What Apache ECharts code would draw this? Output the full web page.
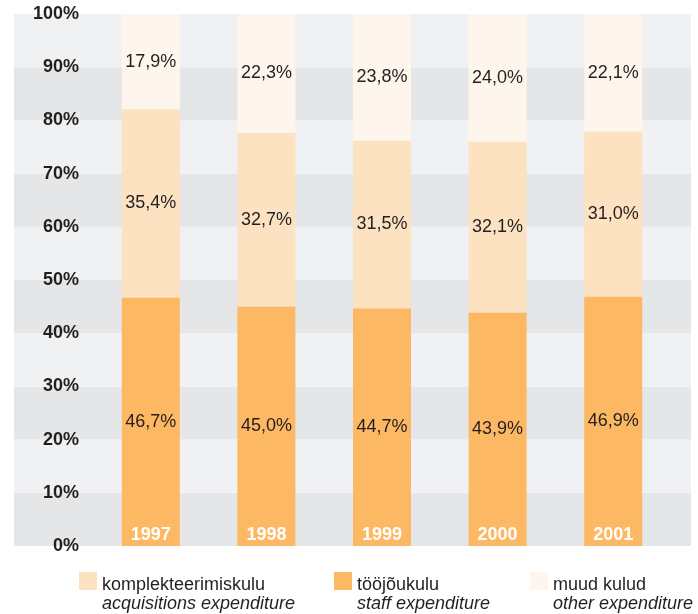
<!DOCTYPE html>
<html>
<head>
<meta charset="utf-8">
<script src="https://cdn.jsdelivr.net/npm/echarts@6/dist/echarts.min.js"></script>
<style>
  html, body { margin: 0; padding: 0; background: #fff; }
  #chart { width: 698px; height: 614px; }
</style>
</head>
<body>
<div id="chart"></div>
<script>
const years = ['1997', '1998', '1999', '2000', '2001']
const staff = [46.7, 45.0, 44.7, 43.9, 46.9]
const acquisitions = [35.4, 32.7, 31.5, 32.1, 31.0]
const other = [17.9, 22.3, 23.8, 24.0, 22.1]

const names = [
  { key: 'acq', et: 'komplekteerimiskulu', en: 'acquisitions expenditure' },
  { key: 'staff', et: 'tööjõukulu', en: 'staff expenditure' },
  { key: 'other', et: 'muud kulud', en: 'other expenditure' }
]

const textColor = '#231f20'
const fontFamily = '"Liberation Sans", Arial, sans-serif'

const fmt = v => v.toFixed(1).replace('.', ',') + '%'

const valueLabel = {
  show: true,
  position: 'inside',
  color: textColor,
  fontSize: 18,
  fontFamily,
  padding: [3, 0, 0, 0],
  formatter: p => fmt(p.value)
}

const legendFor = (key, left) => ({
  data: [{ name: key, icon: 'rect' }],
  left,
  top: 567,
  orient: 'horizontal',
  itemWidth: 18,
  itemHeight: 18,
  itemGap: 10,
  selectedMode: false,
  formatter: name => {
    const n = names.find(x => x.key === name)
    return '{a|' + n.et + '}\n{b|' + n.en + '}'
  },
  textStyle: {
    padding: [27, 0, 0, 0],
    rich: {
      a: { fontSize: 18, lineHeight: 19, color: textColor, fontFamily },
      b: { fontSize: 18, lineHeight: 19, color: textColor, fontFamily, fontStyle: 'italic' }
    }
  }
})

const chart = echarts.init(document.getElementById('chart'))
chart.setOption({
  animation: false,
  backgroundColor: '#fff',
  legend: [
    legendFor('acq', 74),
    legendFor('staff', 329),
    legendFor('other', 525)
  ],
  grid: [
    { left: 14, right: 7, top: 14, bottom: 68 },
    { left: 93, right: 27, top: 14, bottom: 68 }
  ],
  xAxis: [
    { gridIndex: 0, type: 'category', data: years, show: false },
    {
      gridIndex: 1,
      type: 'category',
      data: years,
      z: 10,
      axisLine: { show: false },
      axisTick: { show: false },
      axisLabel: {
        inside: true,
        margin: 2,
        color: '#fff',
        fontSize: 18,
        fontWeight: 'bold',
        fontFamily
      }
    }
  ],
  yAxis: [
    {
      gridIndex: 0,
      type: 'value',
      min: 0,
      max: 100,
      interval: 10,
      axisLine: { show: false },
      axisTick: { show: false },
      splitLine: { show: false },
      splitArea: { show: true, areaStyle: { color: ['#e5e6e8', '#f0f1f3'] } },
      axisLabel: {
        margin: -65,
        padding: [6, 0, 0, 0],
        formatter: '{value}%',
        color: textColor,
        fontSize: 18,
        fontWeight: 'bold',
        fontFamily
      }
    },
    { gridIndex: 1, type: 'value', min: 0, max: 100, show: false }
  ],
  series: [
    {
      name: 'staff',
      type: 'bar',
      stack: 'total',
      xAxisIndex: 1,
      yAxisIndex: 1,
      barWidth: 58,
      data: staff,
      itemStyle: { color: '#fdb863' },
      label: valueLabel
    },
    {
      name: 'acq',
      type: 'bar',
      stack: 'total',
      xAxisIndex: 1,
      yAxisIndex: 1,
      barWidth: 58,
      data: acquisitions,
      itemStyle: { color: '#fde2c1' },
      label: valueLabel
    },
    {
      name: 'other',
      type: 'bar',
      stack: 'total',
      xAxisIndex: 1,
      yAxisIndex: 1,
      barWidth: 58,
      data: other,
      itemStyle: { color: '#fef6ec' },
      label: valueLabel
    }
  ]
})
</script>
</body>
</html>
